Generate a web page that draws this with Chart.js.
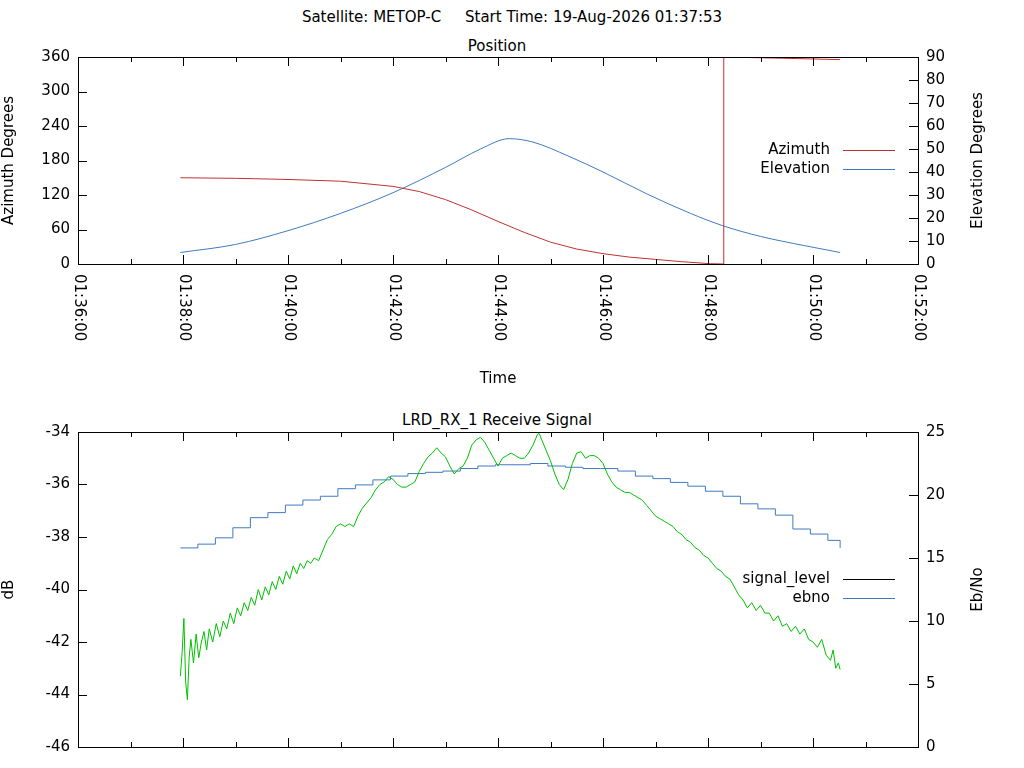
<!DOCTYPE html>
<html>
<head>
<meta charset="utf-8">
<script src="https://cdn.jsdelivr.net/npm/chart.js@4/dist/chart.umd.min.js"></script>
<style>
  body { margin: 0; background: #fff; font-family: 'DejaVu Sans', sans-serif; }
  #wrap { position: relative; width: 1024px; height: 768px; }
  .t { position: absolute; width: 1024px; text-align: center; font-size: 15px; color: #000; }
  canvas { position: absolute; left: 0; }
</style>
</head>
<body>
<div id="wrap">
  <div class="t" style="top:8px">Satellite: METOP-C &nbsp;&nbsp;&nbsp; Start Time: 19-Aug-2026 01:37:53</div>
  <div class="t" style="top:37px; left:-15px">Position</div>
  <div class="t" style="top:411px; left:-15px">LRD_RX_1 Receive Signal</div>
  <canvas id="top" width="1024" height="400" style="top:0"></canvas>
  <canvas id="bot" width="1024" height="368" style="top:400px"></canvas>
</div>
<script>
// time axis: seconds after 01:36:00
const tickSeconds = [0, 120, 240, 360, 480, 600, 720, 840, 960];
const tickLabels = ["01:36:00", "01:38:00", "01:40:00", "01:42:00", "01:44:00", "01:46:00", "01:48:00", "01:50:00", "01:52:00"];

const azTimes = [117, 180, 240, 300, 360, 390, 420, 450, 480, 510, 540, 570, 600, 630, 660, 690, 723, 738, 738, 753, 800, 871];
const azimuth = [150, 149, 147, 144, 135, 126, 112, 94, 74, 55, 38, 26, 18, 12, 8, 4, 0.5, 0, 360, 359.5, 358, 355.5];

const elTimes = [117, 180, 240, 300, 360, 420, 460, 493, 520, 560, 600, 650, 700, 738, 780, 830, 871];
const elevation = [5, 8.5, 14.5, 22, 31, 42, 50, 54.5, 53, 47, 40, 30.5, 22, 16.5, 12, 8, 5];

const ebTimes = [117, 137, 157, 177, 197, 217, 237, 257, 277, 297, 317, 337, 357, 377, 397, 417, 437, 457, 477, 497, 517, 537, 557, 577, 597, 617, 637, 657, 677, 697, 717, 737, 757, 777, 797, 817, 837, 857, 871];
const ebno = [15.8, 16.1, 16.6, 17.4, 18.2, 18.6, 19.2, 19.6, 19.9, 20.5, 20.8, 21.2, 21.5, 21.7, 21.8, 21.9, 22.1, 22.3, 22.4, 22.4, 22.5, 22.3, 22.2, 22.1, 22.1, 21.9, 21.5, 21.3, 21.0, 20.7, 20.3, 19.9, 19.3, 18.9, 18.4, 17.3, 16.9, 16.4, 15.8];

const sigTimes = [117, 119, 121, 123, 125, 127, 129, 132, 135, 138, 141, 144, 147, 150, 154, 158, 162, 166, 170, 174, 178, 182, 186, 190, 194, 198, 202, 206, 210, 214, 218, 222, 226, 230, 234, 238, 242, 246, 250, 254, 258, 262, 266, 270, 275, 280, 285, 290, 295, 300, 305, 310, 315, 320, 325, 330, 335, 340, 345, 350, 355, 360, 365, 370, 375, 380, 385, 390, 395, 400, 405, 410, 415, 420, 425, 430, 435, 440, 445, 450, 455, 460, 465, 470, 475, 480, 485, 490, 495, 500, 505, 510, 515, 520, 525, 527, 530, 535, 540, 545, 550, 555, 560, 565, 570, 575, 580, 585, 590, 595, 600, 605, 610, 615, 620, 625, 630, 635, 640, 645, 650, 655, 660, 665, 670, 675, 680, 685, 690, 695, 700, 705, 710, 715, 720, 725, 730, 735, 740, 745, 750, 755, 760, 765, 770, 775, 780, 785, 790, 795, 800, 805, 810, 815, 820, 825, 830, 835, 840, 845, 850, 855, 860, 863, 866, 869, 871];
const signalLevel = [-43.3, -42.4, -41.1, -43.5, -44.2, -42.6, -41.9, -42.8, -41.7, -42.6, -42.0, -41.6, -42.3, -41.5, -42.0, -41.3, -41.8, -41.2, -41.5, -40.9, -41.3, -40.7, -41.0, -40.5, -40.8, -40.3, -40.6, -40.0, -40.4, -39.9, -40.2, -39.7, -40.0, -39.5, -39.8, -39.3, -39.6, -39.1, -39.4, -39.0, -39.2, -38.9, -39.0, -38.8, -38.9, -38.5, -38.1, -37.9, -37.6, -37.5, -37.6, -37.5, -37.6, -37.2, -36.9, -36.7, -36.5, -36.2, -36.0, -35.9, -35.7, -35.8, -36.0, -36.1, -36.1, -36.0, -35.9, -35.5, -35.2, -34.95, -34.8, -34.6, -34.8, -34.95, -35.3, -35.6, -35.4, -35.3, -35.0, -34.5, -34.3, -34.2, -34.4, -34.7, -35.0, -35.3, -35.0, -34.9, -34.8, -34.9, -35.0, -35.0, -34.8, -34.5, -34.1, -34.05, -34.3, -34.7, -35.1, -35.6, -36.0, -36.2, -35.8, -35.2, -34.8, -34.75, -35.0, -34.9, -34.9, -35.0, -35.2, -35.6, -35.9, -36.1, -36.2, -36.3, -36.3, -36.4, -36.5, -36.6, -36.8, -37.0, -37.2, -37.3, -37.4, -37.5, -37.6, -37.8, -37.9, -38.1, -38.2, -38.4, -38.5, -38.7, -38.8, -39.0, -39.2, -39.3, -39.5, -39.6, -39.9, -40.2, -40.4, -40.7, -40.5, -40.8, -40.6, -40.9, -40.9, -41.2, -41.0, -41.4, -41.3, -41.6, -41.4, -41.7, -41.5, -41.9, -42.0, -42.2, -41.9, -42.5, -42.7, -42.3, -43.0, -42.8, -43.05];

const FONT = { family: 'DejaVu Sans', size: 15 };
Chart.defaults.font = FONT;
Chart.defaults.color = '#000';

function pts(xs, ys) { return xs.map((x, i) => ({ x: x, y: ys[i] })); }

// gnuplot-style frame, inward ticks, rotated labels, right title and key
function framePlugin(showXLabels, rightTitle, legend) {
  return {
    id: 'frame',
    afterDraw(chart) {
      const c = chart.ctx, a = chart.chartArea, sx = chart.scales.x;
      c.save();
      c.strokeStyle = '#000'; c.lineWidth = 1;
      c.strokeRect(a.left + 0.5, a.top + 0.5, a.right - a.left, a.bottom - a.top);
      c.beginPath();
      for (let s = 0; s <= 960; s += 60) {
        const px = Math.round(sx.getPixelForValue(s)) + 0.5;
        const len = s % 120 === 0 ? 9 : 5;
        c.moveTo(px, a.bottom); c.lineTo(px, a.bottom - len);
        c.moveTo(px, a.top); c.lineTo(px, a.top + len);
      }
      ['y', 'y1'].forEach(id => {
        const sc = chart.scales[id];
        sc.ticks.forEach(t => {
          const py = Math.round(sc.getPixelForValue(t.value)) + 0.5;
          if (id === 'y') { c.moveTo(a.left, py); c.lineTo(a.left + 9, py); }
          else { c.moveTo(a.right, py); c.lineTo(a.right - 9, py); }
        });
      });
      c.stroke();
      c.fillStyle = '#000'; c.font = '15px "DejaVu Sans"';
      if (showXLabels) {
        tickSeconds.forEach((s, i) => {
          const px = sx.getPixelForValue(s);
          c.save();
          c.translate(px + 1, a.bottom + 10);
          c.rotate(Math.PI / 2);
          c.textAlign = 'left'; c.textBaseline = 'middle';
          c.fillText(tickLabels[i], 0, 0);
          c.restore();
        });
      }
      c.save();
      c.translate(978, (a.top + a.bottom) / 2);
      c.rotate(-Math.PI / 2);
      c.textAlign = 'center'; c.textBaseline = 'middle';
      c.fillText(rightTitle, 0, 0);
      c.restore();
      legend.items.forEach((it, i) => {
        const y = legend.y + i * 19;
        c.textAlign = 'right'; c.textBaseline = 'middle';
        c.fillText(it.text, 830, y);
        c.strokeStyle = it.color; c.beginPath();
        c.moveTo(843, y + 0.5); c.lineTo(895, y + 0.5); c.stroke();
      });
      c.restore();
    }
  };
}

function xAxis(titleText, height) {
  return {
    type: 'linear', min: 0, max: 960,
    grid: { display: false, drawTicks: false },
    border: { display: false },
    ticks: { display: false, stepSize: 120 },
    title: { display: !!titleText, text: titleText, font: FONT, padding: { top: 0, bottom: 12 } },
    afterFit(s) { s.height = height; }
  };
}

function yAxis(pos, min, max, step, titleText, width) {
  return {
    type: 'linear', position: pos, min: min, max: max,
    grid: { display: false, drawTicks: false },
    border: { display: false },
    ticks: { stepSize: step, padding: 8, font: FONT },
    title: { display: !!titleText, text: titleText, font: FONT, padding: 0 },
    afterFit(s) { s.width = width; }
  };
}

const lineStyle = { borderWidth: 1, pointRadius: 0, fill: false, tension: 0 };

new Chart(document.getElementById('top'), {
  type: 'line',
  data: {
    datasets: [
      Object.assign({ label: 'Azimuth', data: pts(azTimes, azimuth), borderColor: '#c03030', yAxisID: 'y' }, lineStyle),
      Object.assign({ label: 'Elevation', data: pts(elTimes, elevation), borderColor: '#3f7ac0', yAxisID: 'y1', cubicInterpolationMode: 'monotone' }, lineStyle)
    ]
  },
  options: {
    responsive: false, animation: false,
    layout: { padding: { top: 57, right: 30 } },
    plugins: { legend: { display: false }, tooltip: { enabled: false } },
    scales: {
      x: xAxis('Time', 136),
      y: yAxis('left', 0, 360, 60, 'Azimuth Degrees', 78),
      y1: yAxis('right', 0, 90, 10, '', 76)
    }
  },
  plugins: [framePlugin(true, 'Elevation Degrees', { y: 150, items: [{ text: 'Azimuth', color: '#c03030' }, { text: 'Elevation', color: '#3f7ac0' }] })]
});

new Chart(document.getElementById('bot'), {
  type: 'line',
  data: {
    datasets: [
      Object.assign({ label: 'signal_level', data: pts(sigTimes, signalLevel), borderColor: '#00c000', yAxisID: 'y' }, lineStyle),
      Object.assign({ label: 'ebno', data: pts(ebTimes, ebno), borderColor: '#3f7ac0', yAxisID: 'y1', stepped: true }, lineStyle)
    ]
  },
  options: {
    responsive: false, animation: false,
    layout: { padding: { top: 32, right: 30 } },
    plugins: { legend: { display: false }, tooltip: { enabled: false } },
    scales: {
      x: xAxis('', 21),
      y: yAxis('left', -46, -34, 2, 'dB', 78),
      y1: yAxis('right', 0, 25, 5, '', 76)
    }
  },
  plugins: [framePlugin(false, 'Eb/No', { y: 179, items: [{ text: 'signal_level', color: '#000' }, { text: 'ebno', color: '#3f7ac0' }] })]
});
</script>
</body>
</html>
